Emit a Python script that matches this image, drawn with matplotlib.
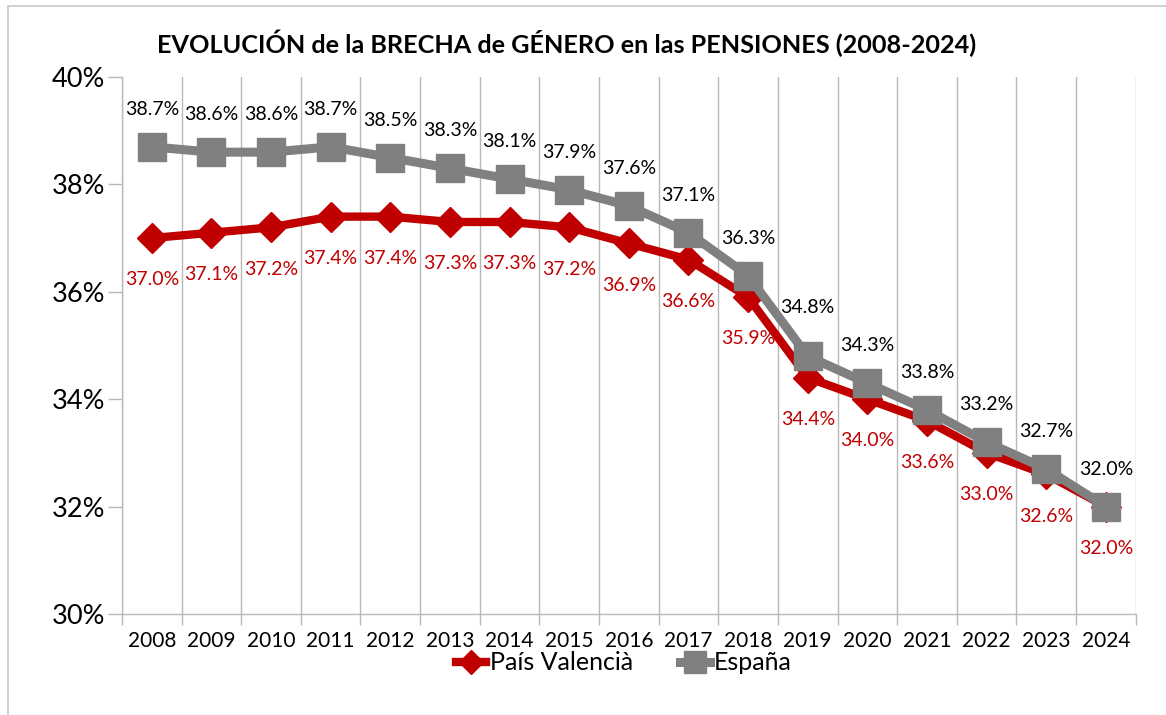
import matplotlib
matplotlib.use("Agg")
import matplotlib.pyplot as plt
from matplotlib.patches import Rectangle

years = [str(y) for y in range(2008, 2025)]
espana = [38.7, 38.6, 38.6, 38.7, 38.5, 38.3, 38.1, 37.9, 37.6, 37.1, 36.3,
          34.8, 34.3, 33.8, 33.2, 32.7, 32.0]
pais_valencia = [37.0, 37.1, 37.2, 37.4, 37.4, 37.3, 37.3, 37.2, 36.9, 36.6,
                 35.9, 34.4, 34.0, 33.6, 33.0, 32.6, 32.0]
y_ticks = [30, 32, 34, 36, 38, 40]

title = "EVOLUCIÓN de la BRECHA de GÉNERO en las PENSIONES (2008-2024)"

red = "#c00000"
gray = "#808080"
grid_c = "#b8b8b8"

plt.rcParams['font.family'] = ['Lato', 'DejaVu Sans']

fig = plt.figure(figsize=(11.66, 7.15), dpi=100)
ax = fig.add_axes([0.1046, 0.1413, 0.8694, 0.751])

# thin frame around the chart (only top/left visible in the reference)
fig.patches.append(Rectangle((8 / 1166, -0.05), 1.2, 1.05 - 6 / 715,
                             transform=fig.transFigure, fill=False,
                             edgecolor="#c8c8c8", lw=1.2))

x = list(range(len(years)))
ax.plot(x, espana, color=gray, lw=6.5, marker='s', ms=20, label='España',
        zorder=4, solid_joinstyle='miter')
ax.plot(x, pais_valencia, color=red, lw=6, marker='D', ms=15,
        label='País Valencià', zorder=3, solid_joinstyle='miter')

# data labels
up_extra = {11: 8}
for i, v in enumerate(espana):
    ax.annotate(f"{v:.1f}%", (i, v), xytext=(0, 27 + up_extra.get(i, 0)),
                textcoords='offset points', ha='center', va='center',
                fontsize=14, color='black', zorder=6)
for i, v in enumerate(pais_valencia):
    ax.annotate(f"{v:.1f}%", (i, v), xytext=(0, -30),
                textcoords='offset points', ha='center', va='center',
                fontsize=14, color=red, zorder=6)

ax.set_xlim(-0.5, len(years) - 0.5)
ax.set_ylim(30, 40)
ax.set_yticks(y_ticks)
ax.set_yticklabels([f"{t}%" for t in y_ticks], fontsize=19.5)
ax.set_xticks(x)
ax.set_xticklabels(years, fontsize=15)
ax.set_xticks([i - 0.5 for i in range(len(years) + 1)], minor=True)
ax.tick_params(axis='x', which='major', length=0, pad=12)
ax.tick_params(axis='x', which='minor', length=8, color=grid_c, width=1)
ax.tick_params(axis='y', length=10, color=grid_c, width=1, pad=2)
ax.grid(axis='x', which='minor', color=grid_c, lw=1)
ax.set_axisbelow(True)

for s in ['top', 'right']:
    ax.spines[s].set_visible(False)
for s in ['left', 'bottom']:
    ax.spines[s].set_color(grid_c)
    ax.spines[s].set_linewidth(1)

fig.text(0.486, 0.94, title, ha='center', va='center', fontsize=18.2,
         fontweight='bold')

handles, labels = ax.get_legend_handles_labels()
leg = fig.legend(handles[::-1], labels[::-1], loc='center',
                 bbox_to_anchor=(0.535, 0.073), ncol=2, frameon=True,
                 fontsize=18, handlelength=1.2, handletextpad=0.15,
                 columnspacing=1.9, borderpad=0.15, markerscale=0.8)
leg.get_frame().set_facecolor('white')
leg.get_frame().set_edgecolor('white')
leg.set_zorder(10)

fig.savefig("out.png", dpi=100)
